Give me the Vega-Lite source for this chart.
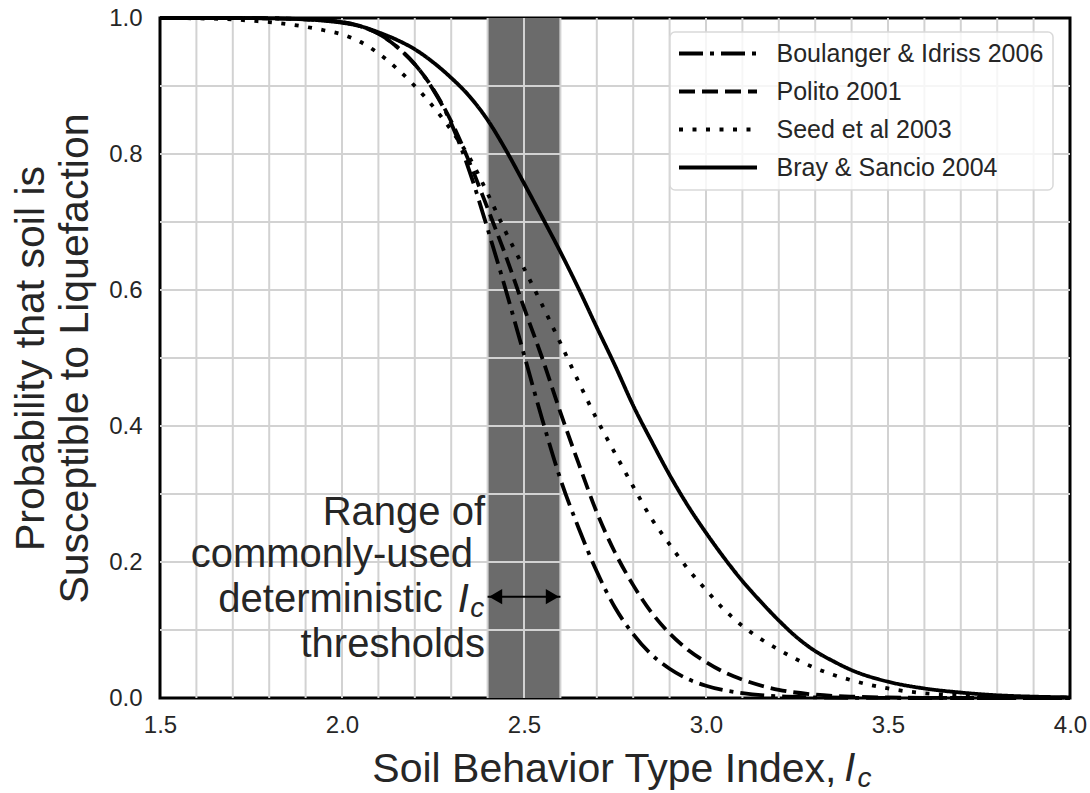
{
  "$schema": "https://vega.github.io/schema/vega-lite/v6.json",
  "width": 910,
  "height": 680,
  "autosize": "none",
  "padding": {"left": 160, "top": 18, "right": 20, "bottom": 95},
  "background": "white",
  "config": {
    "font": "Liberation Sans",
    "view": {"stroke": "black", "strokeWidth": 3},
    "axis": {
      "grid": false,
      "ticks": false,
      "domain": false,
      "labelFlush": false,
      "labelOverlap": false,
      "labelFont": "Liberation Sans",
      "labelFontSize": 24,
      "labelColor": "#262626",
      "titleFont": "Liberation Sans",
      "titleFontSize": 41,
      "titleFontWeight": "normal",
      "titleColor": "#262626"
    },
    "legend": {
      "orient": "none",
      "legendX": 510,
      "legendY": 14,
      "padding": 9,
      "fillColor": "rgba(255,255,255,0.8)",
      "strokeColor": "#d9d9d9",
      "strokeWidth": 1.5,
      "cornerRadius": 5,
      "labelFont": "Liberation Sans",
      "labelFontSize": 25,
      "labelColor": "#262626",
      "labelLimit": 0,
      "labelOffset": 46,
      "rowPadding": 12,
      "symbolType": "M-3.9,0H3.9",
      "symbolSize": 400,
      "symbolOffset": 26.5,
      "symbolStrokeWidth": 4,
      "symbolStrokeColor": "black",
      "symbolFillColor": "transparent"
    }
  },
  "datasets": {
    "curves": [
      {"model": "Boulanger & Idriss 2006", "ic": 1.5, "p": 1.0},
      {"model": "Boulanger & Idriss 2006", "ic": 1.6, "p": 1.0},
      {"model": "Boulanger & Idriss 2006", "ic": 1.7, "p": 1.0},
      {"model": "Boulanger & Idriss 2006", "ic": 1.8, "p": 0.9995},
      {"model": "Boulanger & Idriss 2006", "ic": 1.9, "p": 0.998},
      {"model": "Boulanger & Idriss 2006", "ic": 2.0, "p": 0.994},
      {"model": "Boulanger & Idriss 2006", "ic": 2.05, "p": 0.988},
      {"model": "Boulanger & Idriss 2006", "ic": 2.1, "p": 0.977},
      {"model": "Boulanger & Idriss 2006", "ic": 2.15, "p": 0.958},
      {"model": "Boulanger & Idriss 2006", "ic": 2.2, "p": 0.932},
      {"model": "Boulanger & Idriss 2006", "ic": 2.25, "p": 0.895},
      {"model": "Boulanger & Idriss 2006", "ic": 2.3, "p": 0.845},
      {"model": "Boulanger & Idriss 2006", "ic": 2.35, "p": 0.775},
      {"model": "Boulanger & Idriss 2006", "ic": 2.4, "p": 0.69},
      {"model": "Boulanger & Idriss 2006", "ic": 2.45, "p": 0.6},
      {"model": "Boulanger & Idriss 2006", "ic": 2.5, "p": 0.505},
      {"model": "Boulanger & Idriss 2006", "ic": 2.55, "p": 0.41},
      {"model": "Boulanger & Idriss 2006", "ic": 2.6, "p": 0.322},
      {"model": "Boulanger & Idriss 2006", "ic": 2.65, "p": 0.25},
      {"model": "Boulanger & Idriss 2006", "ic": 2.7, "p": 0.186},
      {"model": "Boulanger & Idriss 2006", "ic": 2.75, "p": 0.133},
      {"model": "Boulanger & Idriss 2006", "ic": 2.8, "p": 0.094},
      {"model": "Boulanger & Idriss 2006", "ic": 2.85, "p": 0.064},
      {"model": "Boulanger & Idriss 2006", "ic": 2.9, "p": 0.043},
      {"model": "Boulanger & Idriss 2006", "ic": 2.95, "p": 0.028},
      {"model": "Boulanger & Idriss 2006", "ic": 3.0, "p": 0.018},
      {"model": "Boulanger & Idriss 2006", "ic": 3.1, "p": 0.007},
      {"model": "Boulanger & Idriss 2006", "ic": 3.2, "p": 0.0025},
      {"model": "Boulanger & Idriss 2006", "ic": 3.3, "p": 0.001},
      {"model": "Boulanger & Idriss 2006", "ic": 3.4, "p": 0.0003},
      {"model": "Boulanger & Idriss 2006", "ic": 3.6, "p": 0.0},
      {"model": "Boulanger & Idriss 2006", "ic": 4.0, "p": 0.0},

      {"model": "Polito 2001", "ic": 1.5, "p": 1.0},
      {"model": "Polito 2001", "ic": 1.6, "p": 1.0},
      {"model": "Polito 2001", "ic": 1.7, "p": 1.0},
      {"model": "Polito 2001", "ic": 1.8, "p": 0.9995},
      {"model": "Polito 2001", "ic": 1.9, "p": 0.998},
      {"model": "Polito 2001", "ic": 2.0, "p": 0.994},
      {"model": "Polito 2001", "ic": 2.05, "p": 0.988},
      {"model": "Polito 2001", "ic": 2.1, "p": 0.977},
      {"model": "Polito 2001", "ic": 2.15, "p": 0.958},
      {"model": "Polito 2001", "ic": 2.2, "p": 0.932},
      {"model": "Polito 2001", "ic": 2.25, "p": 0.896},
      {"model": "Polito 2001", "ic": 2.3, "p": 0.848},
      {"model": "Polito 2001", "ic": 2.35, "p": 0.788},
      {"model": "Polito 2001", "ic": 2.4, "p": 0.72},
      {"model": "Polito 2001", "ic": 2.45, "p": 0.65},
      {"model": "Polito 2001", "ic": 2.5, "p": 0.574},
      {"model": "Polito 2001", "ic": 2.55, "p": 0.5},
      {"model": "Polito 2001", "ic": 2.6, "p": 0.42},
      {"model": "Polito 2001", "ic": 2.65, "p": 0.345},
      {"model": "Polito 2001", "ic": 2.7, "p": 0.273},
      {"model": "Polito 2001", "ic": 2.75, "p": 0.214},
      {"model": "Polito 2001", "ic": 2.8, "p": 0.166},
      {"model": "Polito 2001", "ic": 2.85, "p": 0.126},
      {"model": "Polito 2001", "ic": 2.9, "p": 0.095},
      {"model": "Polito 2001", "ic": 2.95, "p": 0.071},
      {"model": "Polito 2001", "ic": 3.0, "p": 0.053},
      {"model": "Polito 2001", "ic": 3.05, "p": 0.038},
      {"model": "Polito 2001", "ic": 3.1, "p": 0.027},
      {"model": "Polito 2001", "ic": 3.2, "p": 0.012},
      {"model": "Polito 2001", "ic": 3.3, "p": 0.005},
      {"model": "Polito 2001", "ic": 3.4, "p": 0.002},
      {"model": "Polito 2001", "ic": 3.5, "p": 0.0008},
      {"model": "Polito 2001", "ic": 3.6, "p": 0.0003},
      {"model": "Polito 2001", "ic": 3.8, "p": 0.0},
      {"model": "Polito 2001", "ic": 4.0, "p": 0.0},

      {"model": "Seed et al 2003", "ic": 1.5, "p": 1.0},
      {"model": "Seed et al 2003", "ic": 1.6, "p": 0.9995},
      {"model": "Seed et al 2003", "ic": 1.7, "p": 0.998},
      {"model": "Seed et al 2003", "ic": 1.75, "p": 0.996},
      {"model": "Seed et al 2003", "ic": 1.8, "p": 0.994},
      {"model": "Seed et al 2003", "ic": 1.85, "p": 0.991},
      {"model": "Seed et al 2003", "ic": 1.9, "p": 0.987},
      {"model": "Seed et al 2003", "ic": 1.95, "p": 0.982},
      {"model": "Seed et al 2003", "ic": 2.0, "p": 0.976},
      {"model": "Seed et al 2003", "ic": 2.05, "p": 0.965},
      {"model": "Seed et al 2003", "ic": 2.1, "p": 0.948},
      {"model": "Seed et al 2003", "ic": 2.15, "p": 0.926},
      {"model": "Seed et al 2003", "ic": 2.2, "p": 0.9},
      {"model": "Seed et al 2003", "ic": 2.25, "p": 0.87},
      {"model": "Seed et al 2003", "ic": 2.3, "p": 0.835},
      {"model": "Seed et al 2003", "ic": 2.35, "p": 0.795},
      {"model": "Seed et al 2003", "ic": 2.4, "p": 0.742},
      {"model": "Seed et al 2003", "ic": 2.45, "p": 0.685},
      {"model": "Seed et al 2003", "ic": 2.5, "p": 0.632},
      {"model": "Seed et al 2003", "ic": 2.55, "p": 0.578},
      {"model": "Seed et al 2003", "ic": 2.6, "p": 0.522},
      {"model": "Seed et al 2003", "ic": 2.65, "p": 0.465},
      {"model": "Seed et al 2003", "ic": 2.7, "p": 0.41},
      {"model": "Seed et al 2003", "ic": 2.75, "p": 0.36},
      {"model": "Seed et al 2003", "ic": 2.8, "p": 0.311},
      {"model": "Seed et al 2003", "ic": 2.85, "p": 0.264},
      {"model": "Seed et al 2003", "ic": 2.9, "p": 0.226},
      {"model": "Seed et al 2003", "ic": 2.95, "p": 0.19},
      {"model": "Seed et al 2003", "ic": 3.0, "p": 0.159},
      {"model": "Seed et al 2003", "ic": 3.05, "p": 0.13},
      {"model": "Seed et al 2003", "ic": 3.1, "p": 0.106},
      {"model": "Seed et al 2003", "ic": 3.15, "p": 0.087},
      {"model": "Seed et al 2003", "ic": 3.2, "p": 0.071},
      {"model": "Seed et al 2003", "ic": 3.3, "p": 0.044},
      {"model": "Seed et al 2003", "ic": 3.4, "p": 0.026},
      {"model": "Seed et al 2003", "ic": 3.5, "p": 0.014},
      {"model": "Seed et al 2003", "ic": 3.6, "p": 0.007},
      {"model": "Seed et al 2003", "ic": 3.7, "p": 0.004},
      {"model": "Seed et al 2003", "ic": 3.8, "p": 0.002},
      {"model": "Seed et al 2003", "ic": 3.9, "p": 0.001},
      {"model": "Seed et al 2003", "ic": 4.0, "p": 0.0005},

      {"model": "Bray & Sancio 2004", "ic": 1.5, "p": 1.0},
      {"model": "Bray & Sancio 2004", "ic": 1.7, "p": 1.0},
      {"model": "Bray & Sancio 2004", "ic": 1.8, "p": 0.9995},
      {"model": "Bray & Sancio 2004", "ic": 1.9, "p": 0.998},
      {"model": "Bray & Sancio 2004", "ic": 1.95, "p": 0.996},
      {"model": "Bray & Sancio 2004", "ic": 2.0, "p": 0.993},
      {"model": "Bray & Sancio 2004", "ic": 2.05, "p": 0.988},
      {"model": "Bray & Sancio 2004", "ic": 2.1, "p": 0.979},
      {"model": "Bray & Sancio 2004", "ic": 2.15, "p": 0.968},
      {"model": "Bray & Sancio 2004", "ic": 2.2, "p": 0.954},
      {"model": "Bray & Sancio 2004", "ic": 2.25, "p": 0.935},
      {"model": "Bray & Sancio 2004", "ic": 2.3, "p": 0.912},
      {"model": "Bray & Sancio 2004", "ic": 2.35, "p": 0.885},
      {"model": "Bray & Sancio 2004", "ic": 2.4, "p": 0.85},
      {"model": "Bray & Sancio 2004", "ic": 2.45, "p": 0.806},
      {"model": "Bray & Sancio 2004", "ic": 2.5, "p": 0.757},
      {"model": "Bray & Sancio 2004", "ic": 2.55, "p": 0.707},
      {"model": "Bray & Sancio 2004", "ic": 2.6, "p": 0.656},
      {"model": "Bray & Sancio 2004", "ic": 2.65, "p": 0.602},
      {"model": "Bray & Sancio 2004", "ic": 2.7, "p": 0.545},
      {"model": "Bray & Sancio 2004", "ic": 2.75, "p": 0.489},
      {"model": "Bray & Sancio 2004", "ic": 2.8, "p": 0.43},
      {"model": "Bray & Sancio 2004", "ic": 2.85, "p": 0.378},
      {"model": "Bray & Sancio 2004", "ic": 2.9, "p": 0.328},
      {"model": "Bray & Sancio 2004", "ic": 2.95, "p": 0.283},
      {"model": "Bray & Sancio 2004", "ic": 3.0, "p": 0.243},
      {"model": "Bray & Sancio 2004", "ic": 3.05, "p": 0.206},
      {"model": "Bray & Sancio 2004", "ic": 3.1, "p": 0.172},
      {"model": "Bray & Sancio 2004", "ic": 3.15, "p": 0.142},
      {"model": "Bray & Sancio 2004", "ic": 3.2, "p": 0.114},
      {"model": "Bray & Sancio 2004", "ic": 3.25, "p": 0.089},
      {"model": "Bray & Sancio 2004", "ic": 3.3, "p": 0.069},
      {"model": "Bray & Sancio 2004", "ic": 3.35, "p": 0.054},
      {"model": "Bray & Sancio 2004", "ic": 3.4, "p": 0.041},
      {"model": "Bray & Sancio 2004", "ic": 3.5, "p": 0.024},
      {"model": "Bray & Sancio 2004", "ic": 3.6, "p": 0.014},
      {"model": "Bray & Sancio 2004", "ic": 3.7, "p": 0.008},
      {"model": "Bray & Sancio 2004", "ic": 3.8, "p": 0.004},
      {"model": "Bray & Sancio 2004", "ic": 3.9, "p": 0.002},
      {"model": "Bray & Sancio 2004", "ic": 4.0, "p": 0.001}
    ],
    "thresholdRange": [{"ic": 2.4, "ic2": 2.6, "p": 0.149}],
    "xgrid": [
      {"ic": 1.6}, {"ic": 1.7}, {"ic": 1.8}, {"ic": 1.9}, {"ic": 2.0},
      {"ic": 2.1}, {"ic": 2.2}, {"ic": 2.3}, {"ic": 2.4}, {"ic": 2.5},
      {"ic": 2.6}, {"ic": 2.7}, {"ic": 2.8}, {"ic": 2.9}, {"ic": 3.0},
      {"ic": 3.1}, {"ic": 3.2}, {"ic": 3.3}, {"ic": 3.4}, {"ic": 3.5},
      {"ic": 3.6}, {"ic": 3.7}, {"ic": 3.8}, {"ic": 3.9}
    ],
    "ygrid": [
      {"p": 0.1}, {"p": 0.2}, {"p": 0.3}, {"p": 0.4}, {"p": 0.5},
      {"p": 0.6}, {"p": 0.7}, {"p": 0.8}, {"p": 0.9}
    ],
    "noteLines": [
      {"ic": 2.393, "p": 0.2544, "text": "Range of"},
      {"ic": 2.36, "p": 0.1926, "text": "commonly-used"},
      {"ic": 2.277, "p": 0.1269, "text": "deterministic"},
      {"ic": 2.393, "p": 0.0607, "text": "thresholds"}
    ],
    "symbolI": [
      {"ic": 2.318, "p": 0.1269, "text": "I"},
      {"ic": 3.38, "p": -0.122, "text": "I"}
    ],
    "symbolSub": [
      {"ic": 2.352, "p": 0.1186, "text": "c"},
      {"ic": 3.416, "p": -0.131, "text": "c"}
    ]
  },
  "layer": [
    {
      "data": {"name": "thresholdRange"},
      "mark": {"type": "rect", "color": "#6b6b6b"},
      "encoding": {
        "x": {"field": "ic", "type": "quantitative", "scale": {"domain": [1.5, 4.0], "nice": false, "zero": false}},
        "x2": {"field": "ic2"}
      }
    },
    {
      "data": {"name": "xgrid"},
      "mark": {"type": "rule", "color": "#d2d2d2", "strokeWidth": 2},
      "encoding": {
        "x": {"field": "ic", "type": "quantitative", "scale": {"domain": [1.5, 4.0], "nice": false, "zero": false}}
      }
    },
    {
      "data": {"name": "ygrid"},
      "mark": {"type": "rule", "color": "#d2d2d2", "strokeWidth": 2},
      "encoding": {
        "y": {"field": "p", "type": "quantitative", "scale": {"domain": [0, 1], "nice": false, "zero": false}}
      }
    },
    {
      "data": {"name": "curves"},
      "mark": {"type": "line", "color": "black", "strokeWidth": 3.8, "interpolate": "monotone", "strokeCap": "butt"},
      "encoding": {
        "x": {
          "field": "ic",
          "type": "quantitative",
          "scale": {"domain": [1.5, 4.0], "nice": false, "zero": false},
          "axis": {
            "values": [1.5, 2.0, 2.5, 3.0, 3.5, 4.0],
            "format": ".1f",
            "labelPadding": 15,
            "title": "Soil Behavior Type Index,",
            "titleAlign": "right",
            "titleBaseline": "alphabetic",
            "titleX": 676,
            "titleY": 83
          }
        },
        "y": {
          "field": "p",
          "type": "quantitative",
          "scale": {"domain": [0, 1], "nice": false, "zero": false},
          "axis": {
            "values": [0, 0.2, 0.4, 0.6, 0.8, 1.0],
            "format": ".1f",
            "labelPadding": 18,
            "title": ["Probability that soil is", "Susceptible to Liquefaction"],
            "titleAngle": -90,
            "titleAlign": "center",
            "titleBaseline": "middle",
            "titleLineHeight": 44,
            "titleX": -129,
            "titleY": 340
          }
        },
        "strokeDash": {
          "field": "model",
          "type": "nominal",
          "scale": {
            "domain": ["Boulanger & Idriss 2006", "Polito 2001", "Seed et al 2003", "Bray & Sancio 2004"],
            "range": [[24, 7, 4, 7], [16, 7], [4, 9.5], [1, 0]]
          },
          "legend": {"title": null}
        }
      }
    },
    {
      "data": {"name": "thresholdRange"},
      "mark": {"type": "rule", "color": "black", "strokeWidth": 2},
      "encoding": {
        "x": {"field": "ic", "type": "quantitative", "scale": {"domain": [1.5, 4.0], "nice": false, "zero": false}},
        "x2": {"field": "ic2"},
        "y": {"field": "p", "type": "quantitative", "scale": {"domain": [0, 1], "nice": false, "zero": false}}
      }
    },
    {
      "data": {"name": "thresholdRange"},
      "mark": {"type": "point", "shape": "triangle-left", "filled": true, "color": "black", "size": 230, "opacity": 1, "xOffset": 8},
      "encoding": {
        "x": {"field": "ic", "type": "quantitative", "scale": {"domain": [1.5, 4.0], "nice": false, "zero": false}},
        "y": {"field": "p", "type": "quantitative", "scale": {"domain": [0, 1], "nice": false, "zero": false}}
      }
    },
    {
      "data": {"name": "thresholdRange"},
      "mark": {"type": "point", "shape": "triangle-right", "filled": true, "color": "black", "size": 230, "opacity": 1, "xOffset": -8},
      "encoding": {
        "x": {"field": "ic2", "type": "quantitative", "scale": {"domain": [1.5, 4.0], "nice": false, "zero": false}},
        "y": {"field": "p", "type": "quantitative", "scale": {"domain": [0, 1], "nice": false, "zero": false}}
      }
    },
    {
      "data": {"name": "noteLines"},
      "mark": {"type": "text", "font": "Liberation Sans", "fontSize": 40, "color": "#262626", "align": "right", "baseline": "alphabetic"},
      "encoding": {
        "x": {"field": "ic", "type": "quantitative", "scale": {"domain": [1.5, 4.0], "nice": false, "zero": false}},
        "y": {"field": "p", "type": "quantitative", "scale": {"domain": [0, 1], "nice": false, "zero": false}},
        "text": {"field": "text"}
      }
    },
    {
      "data": {"name": "symbolI"},
      "mark": {"type": "text", "font": "Liberation Sans", "fontSize": 40, "fontStyle": "italic", "color": "#262626", "align": "left", "baseline": "alphabetic"},
      "encoding": {
        "x": {"field": "ic", "type": "quantitative", "scale": {"domain": [1.5, 4.0], "nice": false, "zero": false}},
        "y": {"field": "p", "type": "quantitative", "scale": {"domain": [0, 1], "nice": false, "zero": false}},
        "text": {"field": "text"}
      }
    },
    {
      "data": {"name": "symbolSub"},
      "mark": {"type": "text", "font": "Liberation Sans", "fontSize": 28, "fontStyle": "italic", "color": "#262626", "align": "left", "baseline": "alphabetic"},
      "encoding": {
        "x": {"field": "ic", "type": "quantitative", "scale": {"domain": [1.5, 4.0], "nice": false, "zero": false}},
        "y": {"field": "p", "type": "quantitative", "scale": {"domain": [0, 1], "nice": false, "zero": false}},
        "text": {"field": "text"}
      }
    }
  ]
}
